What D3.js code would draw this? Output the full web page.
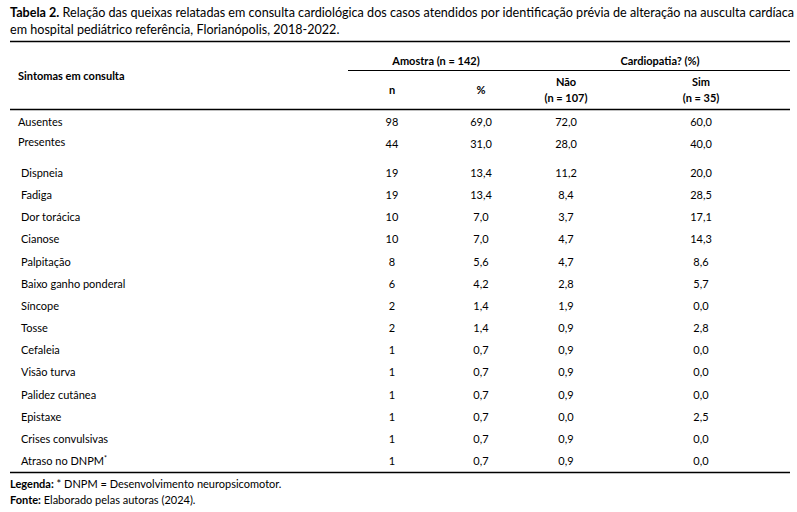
<!DOCTYPE html>
<html>
<head>
<meta charset="utf-8">
<script src="https://cdn.jsdelivr.net/npm/d3@7"></script>
<style>
  body { margin: 0; background: #fff; }
  svg text { font-family: Lato, "Open Sans", sans-serif; fill: #000; }
</style>
</head>
<body>
<div id="chart"></div>
<script>
var width = 797;
var height = 512;

var sintomas = ["Ausentes", "Presentes", "Dispneia", "Fadiga", "Dor torácica", "Cianose",
	"Palpitação", "Baixo ganho ponderal", "Síncope", "Tosse", "Cefaleia", "Visão turva",
	"Palidez cutânea", "Epistaxe", "Crises convulsivas", "Atraso no DNPM"];
var nValues = ["98", "44", "19", "19", "10", "10", "8", "6", "2", "2", "1", "1", "1", "1", "1", "1"];
var pctValues = ["69,0", "31,0", "13,4", "13,4", "7,0", "7,0", "5,6", "4,2", "1,4", "1,4", "0,7", "0,7", "0,7", "0,7", "0,7", "0,7"];
var naoValues = ["72,0", "28,0", "11,2", "8,4", "3,7", "4,7", "4,7", "2,8", "1,9", "0,9", "0,9", "0,9", "0,9", "0,0", "0,9", "0,9"];
var simValues = ["60,0", "40,0", "20,0", "28,5", "17,1", "14,3", "8,6", "5,7", "0,0", "2,8", "0,0", "0,0", "0,0", "2,5", "0,0", "0,0"];
var columns = ["n", "%", "nao", "sim"];
var columnHeads = [["n"], ["%"], ["Não", "(n = 107)"], ["Sim", "(n = 35)"]];

var svg = d3.select("#chart")
	.append("svg")
	.attr("width", width)
	.attr("height", height);

// column centres
var x = d3.scaleOrdinal()
	.domain(columns)
	.range([392, 481, 566, 701]);

// rows: sub-items after "Presentes" are pushed down a little
var slot = function(i) { return i + (i >= 2 ? 0.3 : 0); };
var y = d3.scaleLinear()
	.domain([0, slot(sintomas.length - 1)])
	.range([122, 461]);

var left = 10, right = 790;

// title
var title = svg.append("text").attr("x", left).attr("y", 17).style("font-size", "12.6px");
title.append("tspan").style("font-weight", "bold").text("Tabela 2.");
title.append("tspan").text(" Relação das queixas relatadas em consulta cardiológica dos casos atendidos por identificação prévia de alteração na ausculta cardíaca");
svg.append("text").attr("x", left).attr("y", 34).style("font-size", "12.6px")
	.text("em hospital pediátrico referência, Florianópolis, 2018-2022.");

// rules
var rule = function(x1, x2, yy, w) {
	svg.append("line")
		.attr("x1", x1).attr("x2", x2)
		.attr("y1", yy).attr("y2", yy)
		.attr("stroke", "#000")
		.attr("stroke-width", w);
};
rule(left, right, 41.5, 1.5);
rule(348, right, 70.5, 1);
rule(left, right, 109.5, 1.5);
rule(left, right, 472.5, 1.5);

// header
var head = svg.append("g").style("font-size", "11px").style("font-weight", "bold");
head.append("text").attr("x", 18).attr("y", 80).text("Sintomas em consulta");
head.append("text").attr("x", 436).attr("y", 65).attr("text-anchor", "middle").text("Amostra (n = 142)");
head.append("text").attr("x", 660).attr("y", 65).attr("text-anchor", "middle").text("Cardiopatia? (%)");

head.selectAll(".colhead")
	.data(columnHeads)
	.enter()
	.append("text")
	.attr("class", "colhead")
	.attr("text-anchor", "middle")
	.attr("x", function(d, i) { return x(columns[i]); })
	.attr("y", function(d) { return d.length > 1 ? 86 : 94; })
	.selectAll("tspan")
	.data(function(d) { return d; })
	.enter()
	.append("tspan")
	.attr("x", function() { return d3.select(this.parentNode).attr("x"); })
	.attr("dy", function(d, i) { return i === 0 ? 0 : 16; })
	.text(function(d) { return d; });

// body rows
var rows = svg.selectAll(".row")
	.data(sintomas)
	.enter()
	.append("g")
	.attr("class", "row")
	.style("font-size", "11px")
	.attr("transform", function(d, i) { return "translate(0," + (y(slot(i)) + 4) + ")"; });

rows.append("text")
	.attr("x", function(d, i) { return i >= 2 ? 21 : 18; })
	.attr("dy", function(d, i) { return i === 1 ? -2 : 0; })
	.text(function(d) { return d; })
	.filter(function(d) { return d === "Atraso no DNPM"; })
	.append("tspan")
	.attr("dy", -4)
	.style("font-size", "7px")
	.text("*");

var cells = [nValues, pctValues, naoValues, simValues];
columns.forEach(function(c, ci) {
	rows.append("text")
		.attr("x", x(c))
		.attr("text-anchor", "middle")
		.text(function(d, i) { return cells[ci][i]; });
});

// notes
var notes = svg.append("g").style("font-size", "11px");
var lg = notes.append("text").attr("x", left).attr("y", 488);
lg.append("tspan").style("font-weight", "bold").text("Legenda:");
lg.append("tspan").text(" * DNPM = Desenvolvimento neuropsicomotor.");
var ft = notes.append("text").attr("x", left).attr("y", 504);
ft.append("tspan").style("font-weight", "bold").text("Fonte:");
ft.append("tspan").text(" Elaborado pelas autoras (2024).");
</script>
</body>
</html>
